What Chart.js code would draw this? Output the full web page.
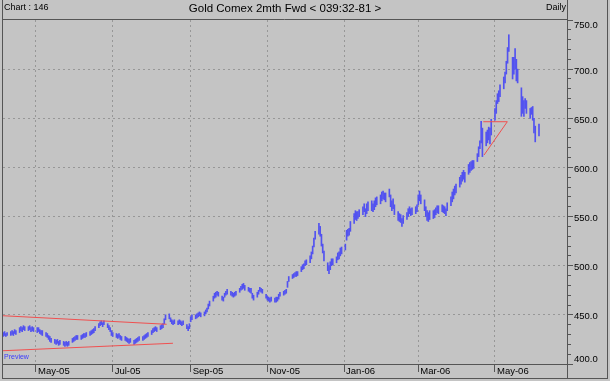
<!DOCTYPE html>
<html><head><meta charset="utf-8">
<script src="https://cdn.jsdelivr.net/npm/chart.js@4.4.1/dist/chart.umd.min.js"></script>
<style>
html,body{margin:0;padding:0;background:#c4c4c4;overflow:hidden}
#wrap{position:relative;width:610px;height:381px}
canvas{display:block}
</style></head>
<body><div id="wrap"><canvas id="c" width="610" height="381"></canvas></div>
<script>
// x values are days counted from 1 Jan 2005; first bar is Tue 5 Apr 2005, one bar per weekday
const startDay = 94;
const lows = [
 428,429,428,429,
 429,430,429,431,430, 432,434,433,435,434, 434,435,433,434,433,
 432,433,431,430,429, 428,427,425,423,422, 421,420,421,419,420, 419,418,419,418,419,
 422,423,424,425,425, 425,426,427,427,428, 429,430,431,432,434, 437,439,440,438,440,
 437,435,433,429,428, 427,426,427,425,424, 424,423,422,421,422, 420,421,422,423,424,
 424,425,426,427,428, 430,432,433,434,433, 435,436,437,441,445, 446,443,441,440,441,
 440,441,440,439,440, 436,434,436,443,445, 446,447,448,449,448, 449,451,453,456,459,
 464,467,468,470,469, 465,464,468,470,471, 470,469,468,469,470, 473,475,476,477,475,
 474,473,472,467,465, 468,471,474,473,472, 467,465,464,463,464, 463,463,464,466,469,
 470,471,472,478,484, 487,488,489,489,490, 494,496,497,500,501, 503,507,512,519,527,
 532,530,520,513,505, 495,492,496,500,501, 503,506,507,510,512, 516,526,530,531,535,
 543,547,546,548,550, 552,555,550,553,556, 556,555,557,560,562, 563,566,568,567,565,
 570,560,556,558,552, 546,545,544,540,543, 547,550,553,551,552, 553,555,562,566,563,
 556,550,546,545,547, 548,549,552,554,553, 555,554,553,551,556, 561,565,568,572,574,
 580,583,586,588,585, 593,595,597,598,599, 606,611,619,625,611, 622,625,628,624,633,
 648,655,665,667,672, 680,686,695,706,718, 690,695,700,688,686, 652,655,652,660,655,
 650,654,648,635,626,
 632
];
const highs = [
 432,433,431,432,
 433,434,433,435,434, 437,438,437,439,438, 438,439,437,438,437,
 437,437,435,434,434, 432,431,429,428,426, 425,424,425,423,424, 423,422,423,422,423,
 426,427,428,429,429, 429,430,431,431,432, 433,434,435,436,438, 441,443,444,442,444,
 441,439,437,434,432, 431,430,431,429,428, 428,427,426,425,426, 424,425,426,427,428,
 428,429,430,431,432, 434,436,437,438,437, 439,440,441,446,450, 451,447,445,444,445,
 444,445,444,443,444, 440,438,441,448,450, 450,451,452,453,452, 453,455,457,461,464,
 469,472,473,474,473, 469,468,472,474,476, 474,473,472,473,474, 477,479,481,482,480,
 478,477,477,472,470, 473,475,478,477,476, 471,469,468,467,468, 467,468,468,471,473,
 474,475,476,484,489, 491,492,493,494,494, 499,501,502,505,506, 510,514,520,528,535,
 543,540,532,522,515, 503,500,504,507,507, 509,513,514,518,519, 522,536,537,538,545,
 553,556,555,555,557, 560,563,558,563,565, 566,563,566,569,570, 572,575,576,574,574,
 578,572,566,568,562, 555,553,552,548,551, 554,558,560,558,559, 560,562,572,576,572,
 567,560,556,554,556, 556,557,559,561,561, 562,561,560,558,564, 570,575,578,581,583,
 590,592,595,597,595, 603,605,606,607,607, 614,621,627,647,640, 636,638,641,640,649,
 660,668,675,678,684, 692,697,708,722,735, 712,712,721,710,700, 681,672,668,670,668,
 660,661,662,650,642,
 644
];
const xTickDays = [120, 181, 243, 304, 365, 424, 485];
const xTickLabels = ['May-05', 'Jul-05', 'Sep-05', 'Nov-05', 'Jan-06', 'Mar-06', 'May-06'];
const yTickValues = [400,410,420,430,440,450,460,470,480,490,500,510,520,530,540,550,560,570,
  580,590,600,610,620,630,640,650,660,670,680,690,700,710,720,730,740,750];
const yGridValues = [450, 500, 550, 600, 650, 700];
const yEdgeLabelAt = [407, 747];
const yEdgeLabelText = ['400.0', '750.0'];
const upperChannel = [{x: 93.8, y: 449.1}, {x: 223.9, y: 440.4}];
const lowerChannel = [{x: 93.8, y: 413.5}, {x: 228.9, y: 421.1}];
const triangleLine = [{x: 475.7, y: 646.5}, {x: 494.8, y: 646.5}, {x: 476.3, y: 612.6}];

const weekday = d => (d + 6) % 7; // 0 = Sunday
const tradeDays = [];
{ let d = startDay;
  for (let i = 0; i < lows.length; i++) {
    while (weekday(d) === 0 || weekday(d) === 6) d++;
    tradeDays.push(d); d++;
  } }
const barData = lows.map((lo, i) => ({x: tradeDays[i], y: [lo, highs[i]]}));

const FONT = '"Liberation Sans", Arial, sans-serif';
const FRAME = '#555555';
const GRID = '#979797';

const framePlugin = {
  id: 'frame',
  beforeDraw(chart) {
    const c = chart.ctx;
    c.save(); c.fillStyle = '#c4c4c4'; c.fillRect(0, 0, chart.width, chart.height); c.restore();
  },
  afterDraw(chart) {
    const c = chart.ctx, a = chart.chartArea;
    c.save();
    c.strokeStyle = FRAME; c.lineWidth = 1;
    c.beginPath();
    c.moveTo(2, 19.5); c.lineTo(a.right, 19.5);
    c.moveTo(a.right + 0.5, 0); c.lineTo(a.right + 0.5, 379);
    c.moveTo(2, a.bottom + 0.5); c.lineTo(a.right, a.bottom + 0.5);
    c.moveTo(2.5, 0); c.lineTo(2.5, 379);
    c.moveTo(2, 378.5); c.lineTo(608, 378.5);
    c.moveTo(607.5, 0); c.lineTo(607.5, 379);
    c.stroke();
    c.fillStyle = '#000';
    c.font = '9px ' + FONT;
    c.textBaseline = 'middle';
    c.textAlign = 'left';
    c.fillText('Chart : 146', 4, 8);
    c.textAlign = 'right';
    c.fillText('Daily', 566, 8);
    c.textAlign = 'left';
    c.fillStyle = '#3a3aff';
    c.font = '7px ' + FONT;
    c.fillText('Preview', 4, 357.5);
    c.restore();
  }
};

new Chart(document.getElementById('c'), {
  type: 'bar',
  data: {
    datasets: [
      {type: 'bar', data: barData, backgroundColor: '#5252f0', borderWidth: 0, barThickness: 1, order: 2},
      {type: 'line', data: upperChannel, borderColor: '#f05050', borderWidth: 1, pointRadius: 0, fill: false, tension: 0, order: 1},
      {type: 'line', data: lowerChannel, borderColor: '#f05050', borderWidth: 1, pointRadius: 0, fill: false, tension: 0, order: 1},
      {type: 'line', data: triangleLine, borderColor: '#f05050', borderWidth: 1, pointRadius: 0, fill: false, tension: 0, order: 1}
    ]
  },
  options: {
    responsive: false,
    animation: false,
    devicePixelRatio: 1,
    layout: {padding: {left: 3, top: 0, right: 0, bottom: 0}},
    plugins: {
      legend: {display: false},
      tooltip: {enabled: false},
      title: {
        display: true, text: 'Gold Comex 2mth Fwd < 039:32-81 >', fullSize: false,
        color: '#000', font: {family: FONT, size: 11.5, weight: 'normal', lineHeight: '14px'},
        padding: {top: 2, bottom: 4}
      }
    },
    scales: {
      x: {
        type: 'linear', position: 'bottom', min: 93.76, max: 542.27, offset: false,
        afterBuildTicks: s => { s.ticks = xTickDays.map(v => ({value: v})); },
        afterFit: s => { s.height = 17; },
        ticks: {
          autoSkip: false, maxRotation: 0, align: 'start', padding: -6, labelOffset: 2,
          color: '#000', font: {family: FONT, size: 9.5},
          callback: (v, i) => xTickLabels[i]
        },
        grid: {offset: false, color: GRID, lineWidth: 1, tickLength: 8, tickColor: FRAME, tickBorderDash: []},
        border: {display: true, color: FRAME, width: 1, dash: [2, 3]}
      },
      y: {
        type: 'linear', position: 'right', min: 400, max: 750,
        afterBuildTicks: s => {
          s.ticks = yTickValues.concat(yEdgeLabelAt).sort((p, q) => p - q).map(v => ({value: v}));
        },
        afterFit: s => { s.width = 43; },
        ticks: {
          autoSkip: false, padding: 1, labelOffset: 2,
          color: '#000', font: {family: FONT, size: 9.5},
          callback: v => {
            const k = yEdgeLabelAt.indexOf(v);
            if (k >= 0) return yEdgeLabelText[k];
            return yGridValues.includes(v) ? v.toFixed(1) : '';
          }
        },
        grid: {
          lineWidth: 1, tickLength: 6,
          color: c => (c.tick && yGridValues.includes(c.tick.value)) ? GRID : 'rgba(0,0,0,0)',
          tickColor: c => (c.tick && yEdgeLabelAt.includes(c.tick.value)) ? 'rgba(0,0,0,0)' : FRAME,
          tickBorderDash: c => (c.tick && c.tick.value % 50 === 0) ? [] : [3, 40]
        },
        border: {display: true, color: FRAME, width: 1, dash: [2, 3]}
      }
    }
  },
  plugins: [framePlugin]
});
</script>
</body></html>
